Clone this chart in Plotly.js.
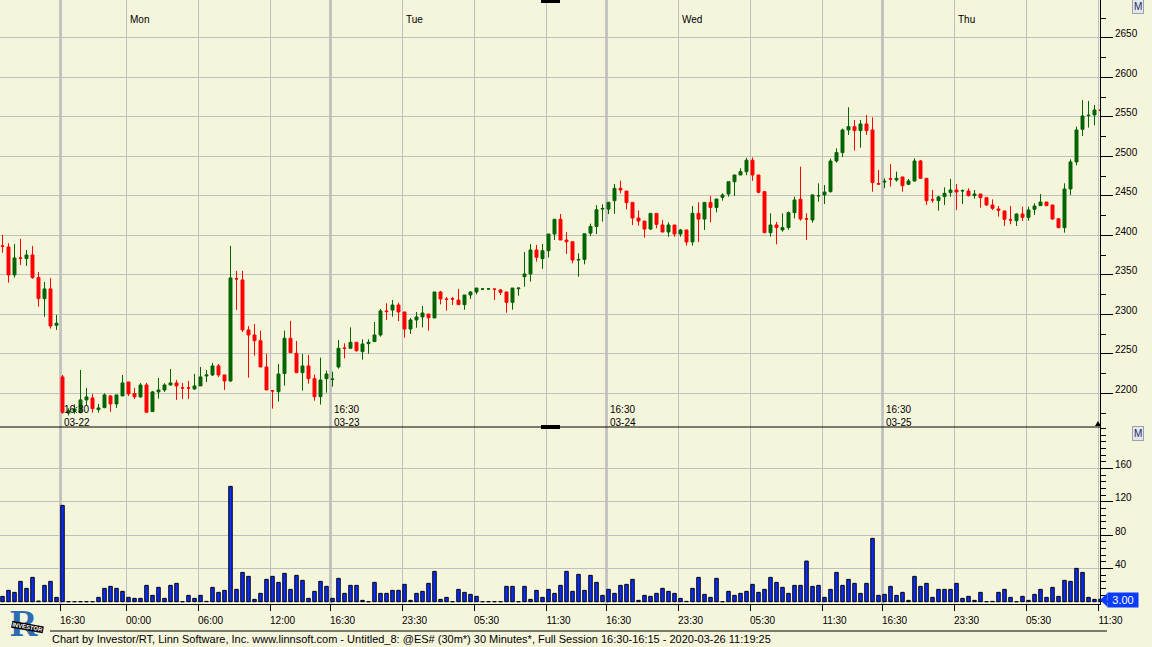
<!DOCTYPE html>
<html>
<head>
<meta charset="utf-8">
<script src="https://cdn.plot.ly/plotly-3.0.1.min.js"></script>
<style>
  html, body { margin: 0; padding: 0; background: #F5F5DC; }
  #chart { width: 1152px; height: 647px; }
</style>
</head>
<body>
<div id="chart"></div>
<script>
// ---- 30-minute bars of @ES# ----
const openP = [
  2386.5,2385.2,2349.8,2371.3,2370.5,2375.1,2346.4,2319.8,2332.1,2286.1,
  2220.7,2175.0,2177.0,2175.5,2191.6,2194.1,2179.3,2181.9,2196.6,2186.5,
  2196.6,2214.3,2199.6,2195.4,2210.5,2176.8,2201.7,2204.2,2210.5,2213.1,
  2207.0,2207.0,2205.5,2209.3,2221.9,2223.2,2234.6,2223.2,2215.6,2345.1,
  2343.5,2280.2,2273.8,2266.6,2233.3,2203.3,2202.0,2224.9,2269.6,2250.6,
  2226.1,2234.6,2218.5,2195.7,2218.5,2217.5,2233.3,2257.3,2256.9,2264.5,
  2252.7,2262.8,2265.4,2273.8,2304.2,2305.4,2311.7,2302.9,2281.3,2292.8,
  2296.6,2300.3,2295.3,2328.2,2319.3,2319.5,2318.0,2312.2,2324.4,2328.2,
  2331.8,2332.0,2332.0,2330.7,2328.2,2315.1,2332.4,2347.6,2351.0,2381.4,
  2370.4,2380.5,2401.6,2420.2,2394.0,2391.8,2368.6,2369.4,2402.7,2411.2,
  2433.1,2433.2,2443.8,2459.4,2456.0,2441.6,2421.8,2418.0,2407.9,2427.7,
  2413.0,2404.1,2413.0,2401.6,2406.7,2391.5,2427.7,2420.5,2441.6,2435.3,
  2448.0,2452.2,2467.8,2476.3,2480.5,2495.0,2476.3,2455.2,2403.3,2413.0,
  2406.8,2409.7,2428.6,2445.5,2420.9,2419.4,2449.8,2451.0,2455.2,2494.0,
  2504.6,2533.3,2537.5,2532.5,2540.9,2533.3,2465.4,2467.4,2471.6,2470.0,
  2473.8,2464.5,2468.7,2494.0,2472.1,2444.9,2443.8,2448.9,2454.0,2457.3,
  2456.0,2456.0,2450.2,2452.2,2447.6,2438.3,2433.3,2430.8,2419.6,2418.5,
  2426.9,2422.7,2432.8,2437.5,2442.1,2438.3,2421.0,2409.7,2458.6,2492.8,
  2534.1,2551.4,2552.3,2558.6
];
const highP = [
  2400.4,2389.9,2389.0,2395.4,2381.4,2386.5,2353.6,2340.9,2345.6,2299.2,
  2223.2,2181.0,2186.0,2229.5,2206.8,2199.2,2186.5,2200.0,2197.9,2197.9,
  2223.2,2214.3,2206.8,2213.1,2213.1,2203.0,2219.4,2212.7,2230.8,2216.9,
  2213.1,2215.6,2224.5,2233.3,2229.5,2238.4,2237.1,2223.2,2386.5,2354.9,
  2354.9,2285.0,2287.7,2279.2,2249.7,2203.8,2237.1,2279.2,2291.5,2266.2,
  2249.7,2248.5,2223.6,2245.1,2228.7,2227.4,2267.4,2263.2,2283.4,2264.5,
  2268.3,2268.3,2290.2,2306.7,2313.9,2318.1,2314.7,2302.9,2295.3,2302.9,
  2310.5,2300.3,2328.2,2329.5,2321.9,2321.9,2332.0,2324.4,2329.0,2333.2,
  2332.3,2332.3,2332.2,2332.0,2328.2,2333.2,2333.2,2378.9,2389.0,2387.7,
  2389.0,2401.6,2420.2,2426.9,2404.0,2391.8,2377.2,2401.9,2414.7,2438.2,
  2439.2,2442.5,2464.9,2469.1,2456.0,2441.6,2431.5,2418.0,2427.7,2427.7,
  2419.3,2416.4,2413.0,2407.9,2406.7,2437.0,2441.6,2441.6,2449.6,2445.9,
  2453.1,2467.8,2476.3,2484.8,2498.0,2498.5,2476.3,2456.0,2427.8,2416.8,
  2427.8,2430.0,2448.8,2486.8,2427.8,2452.0,2465.7,2463.6,2497.0,2510.0,
  2535.0,2562.0,2545.9,2545.9,2552.2,2549.3,2482.7,2472.1,2490.1,2480.5,
  2473.8,2471.3,2497.4,2495.3,2472.1,2457.3,2449.8,2460.7,2471.3,2464.9,
  2458.1,2459.4,2457.3,2452.2,2447.6,2445.5,2437.0,2430.8,2437.0,2427.8,
  2436.2,2436.2,2440.4,2452.2,2442.1,2438.3,2421.0,2465.7,2496.2,2537.5,
  2571.0,2570.0,2565.0,2559.0
];
const lowP = [
  2378.0,2340.1,2346.4,2362.4,2361.2,2345.0,2309.7,2297.0,2281.9,2280.2,
  2174.0,2172.0,2174.0,2174.7,2185.2,2175.5,2175.5,2181.0,2176.4,2181.4,
  2196.6,2196.6,2192.8,2194.5,2175.1,2176.8,2193.2,2201.7,2209.7,2191.6,
  2192.8,2192.8,2204.2,2209.3,2214.3,2221.9,2220.7,2204.2,2214.3,2305.5,
  2277.6,2219.8,2247.6,2233.3,2204.2,2180.5,2189.4,2209.7,2251.4,2226.1,
  2203.3,2212.2,2190.6,2185.6,2200.8,2208.4,2231.2,2244.2,2256.9,2252.7,
  2242.5,2250.2,2265.4,2271.7,2292.8,2297.1,2291.4,2270.4,2275.1,2283.0,
  2283.4,2279.2,2295.3,2312.6,2304.6,2311.8,2312.2,2305.8,2319.3,2325.2,
  2331.3,2331.6,2318.0,2324.4,2301.9,2305.8,2323.5,2334.9,2341.3,2366.6,
  2357.4,2371.7,2394.0,2394.0,2376.3,2364.5,2347.6,2363.2,2398.9,2401.6,
  2417.3,2426.8,2427.0,2453.1,2432.8,2413.0,2412.1,2396.9,2406.7,2408.8,
  2404.1,2398.2,2398.2,2398.2,2386.8,2386.8,2391.5,2406.7,2416.4,2429.0,
  2443.8,2448.8,2449.7,2476.3,2476.0,2469.0,2453.1,2402.5,2398.3,2388.6,
  2404.6,2407.0,2421.4,2418.5,2394.0,2416.0,2442.5,2439.6,2454.0,2492.0,
  2499.0,2526.9,2507.1,2510.9,2526.9,2455.2,2463.6,2459.5,2461.6,2467.9,
  2455.2,2463.6,2467.9,2471.3,2438.3,2441.3,2431.2,2438.3,2448.9,2432.0,
  2439.6,2448.9,2446.4,2435.0,2437.0,2432.0,2423.6,2411.8,2413.9,2411.8,
  2418.1,2418.5,2425.7,2437.5,2437.1,2419.4,2408.8,2403.3,2451.0,2488.5,
  2525.6,2536.3,2539.2,2557.5
];
const closeP = [
  2386.0,2349.8,2371.3,2370.9,2375.1,2346.4,2319.8,2332.1,2285.2,2288.6,
  2176.0,2178.0,2180.0,2191.6,2195.4,2180.6,2181.4,2197.9,2186.5,2197.9,
  2213.1,2199.2,2195.4,2210.5,2176.0,2201.7,2204.2,2210.5,2213.1,2209.3,
  2206.6,2206.6,2209.3,2220.7,2223.2,2234.6,2223.2,2215.6,2346.0,2344.7,
  2280.2,2273.8,2266.6,2233.3,2204.2,2203.0,2224.4,2269.6,2251.4,2226.1,
  2234.6,2218.5,2195.7,2216.8,2224.4,2218.0,2256.9,2256.9,2264.5,2253.9,
  2262.4,2264.5,2273.8,2304.2,2303.4,2311.7,2302.9,2281.3,2292.8,2296.6,
  2301.6,2295.7,2328.2,2319.3,2318.8,2319.3,2312.2,2324.4,2328.2,2333.2,
  2332.0,2332.2,2331.6,2327.8,2315.1,2333.2,2333.2,2351.0,2381.4,2372.1,
  2380.5,2401.6,2420.2,2394.0,2391.8,2368.6,2369.4,2401.9,2411.2,2432.3,
  2433.9,2441.6,2459.4,2457.3,2441.3,2421.8,2418.0,2407.9,2427.7,2413.8,
  2404.1,2413.0,2401.6,2406.7,2391.5,2427.7,2420.5,2441.6,2435.3,2445.9,
  2451.0,2467.8,2476.3,2480.5,2495.0,2476.3,2454.4,2403.3,2413.0,2409.7,
  2409.7,2428.6,2444.7,2420.6,2420.6,2451.0,2450.2,2454.7,2494.0,2504.6,
  2533.3,2537.5,2532.5,2540.9,2532.5,2466.6,2464.9,2468.3,2471.1,2472.1,
  2462.8,2468.7,2494.0,2472.1,2443.8,2444.6,2448.5,2453.1,2457.3,2454.8,
  2456.5,2450.2,2452.2,2447.6,2438.3,2434.1,2431.6,2420.2,2419.4,2426.9,
  2422.7,2432.0,2437.0,2442.1,2437.5,2420.6,2409.7,2458.6,2492.8,2533.3,
  2551.0,2551.9,2558.6,2558.2
];
const volume = [
  6.4,13.6,11.2,24.4,16,29.2,0.8,19.6,24.4,5.2,
  115.6,0,0,0,0,0,5.2,16,18.4,16,
  12.4,5.2,4,4,19.6,7.6,17.2,4,19.6,22,
  0,7.6,4,7.6,0.4,17.2,11.2,13.6,138.4,14.8,
  35.2,30.4,2.8,10,26.8,30.4,23.2,34,14.8,31.6,
  25.6,4,12.4,24.4,18.4,4,28,10,19.6,19.6,
  1.6,0,23.2,10,10,13.6,13.6,20.8,1.6,10,
  12.4,22,36.4,2.8,5.2,0,14.8,11.2,8.8,6.4,
  0,0,0,0,18.4,18.4,0,18.4,2.8,13.6,
  5.2,14.8,10,19.6,36.4,12.4,32.8,13.6,31.6,23.2,
  7.6,14.8,10,19.6,20.8,26.8,1.6,7.6,6.4,10,
  16,12.4,10,4,0.4,16,29.2,8.8,5.2,28,
  0,12.4,7.6,10,12.4,20.8,11.2,14.8,29.2,23.2,
  17.2,10,19.6,19.6,48.8,18.4,19.6,5.2,14.8,35.2,
  19.6,26.8,22,10,22,76,7.6,8.8,18.4,7.6,
  11.2,1.6,30.4,18.4,22,5.2,14.8,14.8,14.8,22,
  4,6.4,1.6,11.2,0,0.4,11.2,14.8,5.2,0,
  6.4,1.6,8.8,14.8,5.2,17.2,6.4,25.6,24.4,40,
  35.2,5.2,2.8,3
];
const lastVolumeLabel = '3.00';

// axis ticks
const priceTicks = [2200,2250,2300,2350,2400,2450,2500,2550,2600,2650];
const volumeTicks = [0,40,80,120,160];
const volumeTickText = ['','40','80','120','160'];

// time axis: grid / tick positions (bar index units) and labels
const gridPos = [9.67,20.67,32.67,44.67,54.67,66.67,78.67,90.67,100.67,112.67,124.67,136.67,146.67,158.67,170.67,182.67];
const timeLabels = ['16:30','00:00','06:00','12:00','16:30','23:30','05:30','11:30','16:30','23:30','05:30','11:30','16:30','23:30','05:30','11:30'];
const dayNames = ['Mon','Tue','Wed','Thu'];
const dayNamePos = [20.67,66.67,112.67,158.67];
const sessionDates = ['03-22','03-23','03-24','03-25'];
const sessionPos = [9.67,54.67,100.67,146.67];
const footerText = 'Chart by Investor/RT, Linn Software, Inc. www.linnsoft.com - Untitled_8: @ES# (30m*) 30 Minutes*, Full Session 16:30-16:15 - 2020-03-26 11:19:25';

const barIdx = openP.map((_, i) => i);

const BG = '#F5F5DC';
const GRID = '#c0c0c0';
const FONT = 'Liberation Sans, Arial, sans-serif';
const split = 0.293046; // paper y of panel separator

const traces = [
  {
    type: 'candlestick', x: barIdx, open: openP, high: highP, low: lowP, close: closeP,
    xaxis: 'x', yaxis: 'y',
    increasing: { line: { color: '#006400', width: 1 }, fillcolor: '#006400' },
    decreasing: { line: { color: '#ff0000', width: 1 }, fillcolor: '#ff0000' },
    whiskerwidth: 0, hoverinfo: 'skip', showlegend: false
  },
  {
    type: 'bar', x: barIdx, y: volume, xaxis: 'x', yaxis: 'y2', width: 0.58,
    marker: { color: '#0a2cff', line: { color: '#000000', width: 1 } },
    hoverinfo: 'skip', showlegend: false
  }
];

const annotations = [];
dayNames.forEach((d, k) => annotations.push({
  text: d, xref: 'x', x: dayNamePos[k], xanchor: 'left', xshift: 1,
  yref: 'paper', y: (604 - 20) / 604, yanchor: 'middle', showarrow: false,
  font: { family: FONT, size: 10, color: '#000' }
}));
sessionDates.forEach((d, k) => annotations.push({
  text: '16:30<br>' + d, xref: 'x', x: sessionPos[k], xanchor: 'left', xshift: 1,
  yref: 'paper', y: (604 - 416) / 604, yanchor: 'middle', align: 'left', showarrow: false,
  font: { family: FONT, size: 10, color: '#000' }
}));
// "M" buttons
[[6.5], [433.5]].forEach(([py]) => annotations.push({
  text: 'M', xref: 'paper', x: 1143.5 / 1100, yref: 'paper', y: (604 - py) / 604,
  yanchor: 'middle', showarrow: false, bgcolor: '#e4e6ee', bordercolor: '#9aa3b5', borderwidth: 1, borderpad: 1,
  font: { family: FONT, size: 10, color: '#1a2a55' }
}));
// last volume value box
annotations.push({
  text: lastVolumeLabel, xref: 'paper', x: 1107 / 1100, xanchor: 'left',
  yref: 'paper', y: (604 - 600) / 604, yanchor: 'middle', showarrow: false,
  bgcolor: '#0a3cff', borderpad: 1, width: 28,
  font: { family: FONT, size: 11, color: '#ffffff' }
});
// footer
annotations.push({
  text: footerText, xref: 'paper', x: 50 / 1100, xanchor: 'left',
  yref: 'paper', y: (604 - 639) / 604, yanchor: 'middle', showarrow: false,
  font: { family: FONT, size: 11, color: '#000' }
});
// logo
annotations.push({
  text: '<b>R</b>', xref: 'paper', x: 24 / 1100, xanchor: 'center', yref: 'paper', y: (604 - 623) / 604,
  yanchor: 'middle', showarrow: false, font: { family: 'Liberation Serif, serif', size: 38, color: '#2a6db5' }
});
annotations.push({
  text: '<b>INVESTOR</b>', xref: 'paper', x: 27 / 1100, xanchor: 'center', yref: 'paper', y: (604 - 627) / 604,
  yanchor: 'middle', showarrow: false, textangle: 10, bgcolor: '#000', borderpad: 0,
  font: { family: FONT, size: 6, color: '#ffffff' }
});

const shapes = [];
sessionPos.forEach(p => shapes.push({
  type: 'line', xref: 'x', x0: p, x1: p, yref: 'paper', y0: 0, y1: 1,
  line: { color: '#b8b8b8', width: 2.5 }, layer: 'below'
}));
// panel separator
shapes.push({ type: 'line', xref: 'paper', x0: 0, x1: 1, yref: 'paper', y0: split, y1: split,
  line: { color: '#000', width: 1 } });
// line under time labels
shapes.push({ type: 'line', xref: 'paper', x0: 50 / 1100, x1: 1107 / 1100, yref: 'paper',
  y0: (604 - 631) / 604, y1: (604 - 631) / 604, line: { color: '#000', width: 1 } });
// pointer of the last-volume box
shapes.push({ type: 'path', xref: 'paper', yref: 'paper',
  path: `M ${1100/1100} ${(604-600)/604} L ${1107.5/1100} ${(604-593)/604} L ${1107.5/1100} ${(604-607)/604} Z`,
  fillcolor: '#0a3cff', line: { width: 0 } });
// small black tabs and axis marker
shapes.push({ type: 'rect', xref: 'paper', yref: 'paper', x0: 541 / 1100, x1: 560 / 1100,
  y0: (604 - 3) / 604, y1: 1, fillcolor: '#000', line: { width: 0 } });
shapes.push({ type: 'rect', xref: 'paper', yref: 'paper', x0: 541 / 1100, x1: 560 / 1100,
  y0: (604 - 429) / 604, y1: (604 - 425) / 604, fillcolor: '#000', line: { width: 0 } });
shapes.push({ type: 'path', xref: 'paper', yref: 'paper',
  path: `M ${1095/1100} ${(604-426)/604} L ${1101/1100} ${(604-426)/604} L ${1098/1100} ${(604-421)/604} Z`,
  fillcolor: '#000', line: { width: 0 } });

const layout = {
  width: 1152, height: 647,
  margin: { l: 0, r: 52, t: 0, b: 43, pad: 0 },
  paper_bgcolor: BG, plot_bgcolor: BG,
  showlegend: false, hovermode: false, dragmode: false,
  boxgap: 0.3,
  bargap: 0,
  xaxis: {
    domain: [0, 1], range: [-0.417, 182.917], anchor: 'y2',
    tickmode: 'array', tickvals: gridPos, ticktext: timeLabels,
    ticks: 'outside', ticklen: 6, tickcolor: '#000', tickwidth: 1,
    ticklabelshift: 12, ticklabelstandoff: 1,
    tickfont: { family: FONT, size: 10, color: '#000' },
    showgrid: true, gridcolor: GRID, gridwidth: 1,
    showline: true, linecolor: '#000', linewidth: 1,
    zeroline: false, fixedrange: true,
    rangeslider: { visible: false }
  },
  yaxis: {
    domain: [split, 1], range: [2157.3, 2697.8], anchor: 'x', side: 'right',
    tickmode: 'array', tickvals: priceTicks,
    ticks: 'outside', ticklen: 12, tickcolor: '#000', tickwidth: 1,
    ticklabelshift: -4, ticklabelstandoff: 0,
    tickfont: { family: FONT, size: 10, color: '#000' },
    minor: { tickmode: 'linear', tick0: 0, dtick: 25, ticks: 'outside', ticklen: 5, tickcolor: '#000', showgrid: false },
    showgrid: true, gridcolor: GRID, gridwidth: 1,
    showline: true, linecolor: '#000', linewidth: 1,
    zeroline: false, fixedrange: true
  },
  yaxis2: {
    domain: [0, split], range: [-2.76, 209.7], anchor: 'x', side: 'right',
    tickmode: 'array', tickvals: volumeTicks, ticktext: volumeTickText,
    ticks: 'outside', ticklen: 12, tickcolor: '#000', tickwidth: 1,
    ticklabelshift: -4, ticklabelstandoff: 0,
    tickfont: { family: FONT, size: 10, color: '#000' },
    minor: { tickmode: 'linear', tick0: 0, dtick: 8, ticks: 'outside', ticklen: 5, tickcolor: '#000', showgrid: false },
    showgrid: true, gridcolor: GRID, gridwidth: 1,
    showline: true, linecolor: '#000', linewidth: 1,
    zeroline: false, fixedrange: true
  },
  annotations: annotations,
  shapes: shapes
};

Plotly.newPlot('chart', traces, layout, { displayModeBar: false, staticPlot: true });
</script>
</body>
</html>
